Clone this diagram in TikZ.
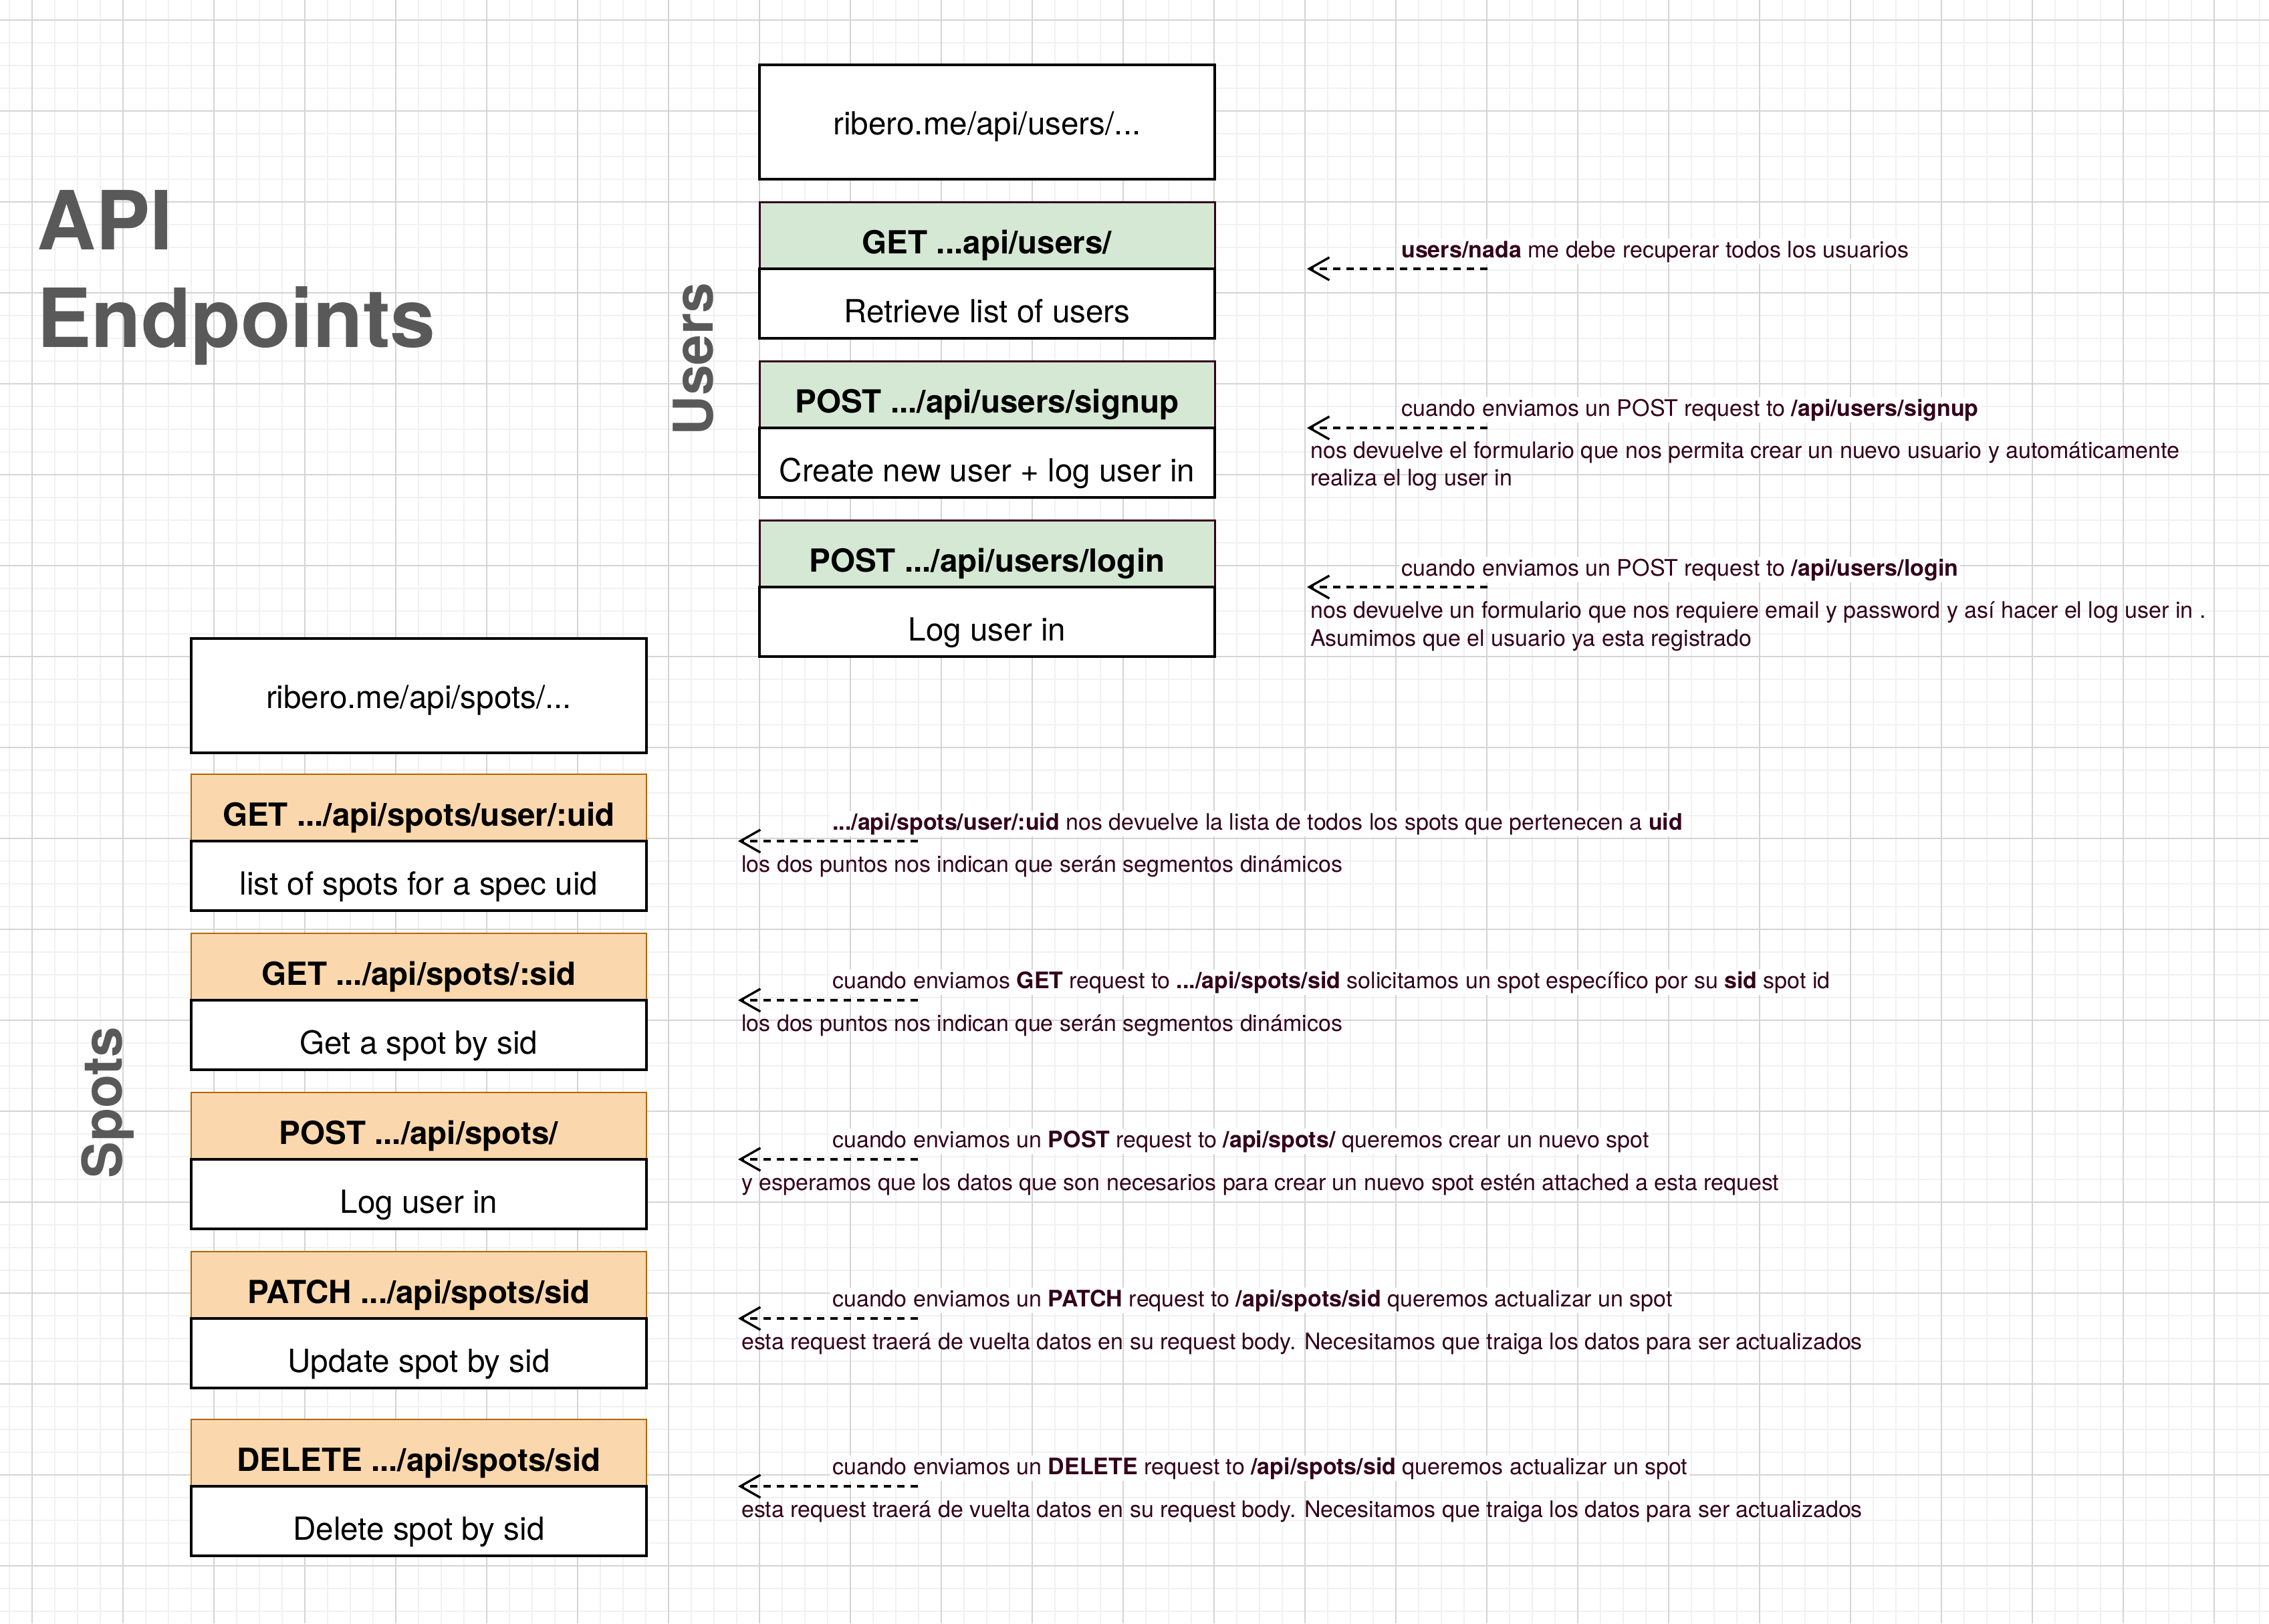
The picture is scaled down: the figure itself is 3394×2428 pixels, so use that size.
\documentclass[tikz,border=0pt]{standalone}
\usepackage{fontspec}
\setmainfont{TeX Gyre Heros}
\usetikzlibrary{arrows.meta}
\definecolor{gridminor}{RGB}{241,241,241}
\definecolor{gridmajor}{RGB}{212,212,212}
\definecolor{titlegray}{RGB}{89,89,89}
\definecolor{notecol}{RGB}{51,0,26}
\definecolor{greenfill}{RGB}{213,232,212}
\definecolor{greenline}{RGB}{51,0,26}
\definecolor{orangefill}{RGB}{250,215,172}
\definecolor{orangeline}{RGB}{180,101,4}
\begin{document}
\begin{tikzpicture}[x=1pt,y=-1pt,
  boxfont/.style={font=\fontsize{47.6}{57}\selectfont},
  urlbox/.style={boxfont, draw=black, line width=3.4pt, fill=white, minimum width=681pt, minimum height=171pt, inner sep=0pt, outer sep=0pt, anchor=north, text height=47pt, text depth=10pt},
  hdr/.style={font=\fontsize{47.6}{57}\selectfont\bfseries, line width=3pt, minimum width=681pt, minimum height=100pt, inner sep=0pt, outer sep=0pt, anchor=north, text height=64pt, text depth=10pt},
  greenhdr/.style={hdr, fill=greenfill, draw=greenline},
  orangehdr/.style={hdr, fill=orangefill, draw=orangeline, line width=2.6pt},
  bodybox/.style={boxfont, draw=black, line width=3.4pt, fill=white, minimum width=681pt, minimum height=104pt, inner sep=0pt, outer sep=0pt, anchor=north, text height=66pt, text depth=10pt},
  titletext/.style={font=\fontsize{122}{146}\selectfont\bfseries, text=titlegray, inner sep=0pt, anchor=base west},
  sectiontext/.style={font=\fontsize{82}{98}\selectfont\bfseries, text=titlegray, inner sep=0pt, rotate=90, anchor=base},
  notefont/.style={font=\fontsize{34}{41}\selectfont, text=notecol},
  notefirst/.style={notefont, fill=white, inner xsep=3pt, inner ysep=3pt, anchor=base west},
  notenext/.style={notefont, inner sep=0pt, anchor=base west},
  notearrow/.style={draw=black, line width=3.4pt, dash pattern=on 11pt off 9pt, -{Straight Barb[length=30pt,width=34pt,line width=3.4pt]}}
]
\useasboundingbox (0,0) rectangle (3394,2428);
\fill[white] (0,0) rectangle (3394,2428);
% grid
\foreach \gx in {14,48,...,3394} \draw[gridminor, line width=1.5pt] (\gx,0) -- (\gx,2428);
\foreach \gy in {30,64,...,2428} \draw[gridminor, line width=1.5pt] (0,\gy) -- (3394,\gy);
\foreach \gx in {48,184,...,3394} \draw[gridmajor, line width=1.5pt] (\gx,0) -- (\gx,2428);
\foreach \gy in {30,166,...,2428} \draw[gridmajor, line width=1.5pt] (0,\gy) -- (3394,\gy);

% titles
\node[titletext] (t1) at (55,373) {API};
\node[titletext] (t2) at (55,519) {Endpoints};
\node[sectiontext] (usersl) at (1066,537) {Users};
\node[sectiontext] (spotsl) at (182,1649) {Spots};

% users column
\node[urlbox] (uurl) at (1476.5,97) {ribero.me/api/users/...};
\node[greenhdr] (u1h) at (1476.5,302) {GET ...api/users/};
\node[bodybox] (u1b) at (u1h.south) {Retrieve list of users};
\node[greenhdr] (u2h) at (1476.5,540) {POST .../api/users/signup};
\node[bodybox] (u2b) at (u2h.south) {Create new user + log user in};
\node[greenhdr] (u3h) at (1476.5,778) {POST .../api/users/login};
\node[bodybox] (u3b) at (u3h.south) {Log user in};

% spots column
\node[urlbox] (surl) at (626.5,955) {ribero.me/api/spots/...};
\node[orangehdr] (s1h) at (626.5,1158) {GET .../api/spots/user/:uid};
\node[bodybox] (s1b) at (s1h.south) {list of spots for a spec uid};
\node[orangehdr] (s2h) at (626.5,1396) {GET .../api/spots/:sid};
\node[bodybox] (s2b) at (s2h.south) {Get a spot by sid};
\node[orangehdr] (s3h) at (626.5,1634) {POST .../api/spots/};
\node[bodybox] (s3b) at (s3h.south) {Log user in};
\node[orangehdr] (s4h) at (626.5,1872) {PATCH .../api/spots/sid};
\node[bodybox] (s4b) at (s4h.south) {Update spot by sid};
\node[orangehdr] (s5h) at (626.5,2123) {DELETE .../api/spots/sid};
\node[bodybox] (s5b) at (s5h.south) {Delete spot by sid};

% users notes
\coordinate (ua1s) at (2225,402); \coordinate (ua1t) at (1955,402);
\draw[notearrow] (ua1s) -- (ua1t);
\node[notefirst] (un1a) at (2093,385) {\textbf{users/nada} me debe recuperar todos los usuarios};

\coordinate (ua2s) at (2225,640); \coordinate (ua2t) at (1955,640);
\draw[notearrow] (ua2s) -- (ua2t);
\node[notefirst] (un2a) at (2093,622) {cuando enviamos un POST request to \textbf{/api/users/signup}};
\node[notenext] (un2b) at (1960,685) {nos devuelve el formulario que nos permita crear un nuevo usuario y automáticamente};
\node[notenext] (un2c) at (1960,726) {realiza el log user in};

\coordinate (ua3s) at (2225,878); \coordinate (ua3t) at (1955,878);
\draw[notearrow] (ua3s) -- (ua3t);
\node[notefirst] (un3a) at (2093,861) {cuando enviamos un POST request to \textbf{/api/users/login}};
\node[notenext] (un3b) at (1960,924) {nos devuelve un formulario que nos requiere email y password y así hacer el log user in .};
\node[notenext] (un3c) at (1960,966) {Asumimos que el usuario ya esta registrado};

% spots notes
\coordinate (sa1s) at (1373,1258); \coordinate (sa1t) at (1104,1258);
\draw[notearrow] (sa1s) -- (sa1t);
\node[notefirst] (sn1a) at (1242,1241) {\textbf{.../api/spots/user/:uid} nos devuelve la lista de todos los spots que pertenecen a \textbf{uid}};
\node[notenext] (sn1b) at (1109,1304) {los dos puntos nos indican que serán segmentos dinámicos};

\coordinate (sa2s) at (1373,1496); \coordinate (sa2t) at (1104,1496);
\draw[notearrow] (sa2s) -- (sa2t);
\node[notefirst] (sn2a) at (1242,1478) {cuando enviamos \textbf{GET} request to \textbf{.../api/spots/sid} solicitamos un spot específico por su \textbf{sid} spot id};
\node[notenext] (sn2b) at (1109,1542) {los dos puntos nos indican que serán segmentos dinámicos};

\coordinate (sa3s) at (1373,1734); \coordinate (sa3t) at (1104,1734);
\draw[notearrow] (sa3s) -- (sa3t);
\node[notefirst] (sn3a) at (1242,1716) {cuando enviamos un \textbf{POST} request to \textbf{/api/spots/} queremos crear un nuevo spot};
\node[notenext] (sn3b) at (1109,1780) {y esperamos que los datos que son necesarios para crear un nuevo spot estén attached a esta request};

\coordinate (sa4s) at (1373,1972); \coordinate (sa4t) at (1104,1972);
\draw[notearrow] (sa4s) -- (sa4t);
\node[notefirst] (sn4a) at (1242,1954) {cuando enviamos un \textbf{PATCH} request to \textbf{/api/spots/sid} queremos actualizar un spot};
\node[notenext] (sn4b) at (1109,2018) {esta request traerá de vuelta datos en su request body. Necesitamos que traiga los datos para ser actualizados};

\coordinate (sa5s) at (1373,2223); \coordinate (sa5t) at (1104,2223);
\draw[notearrow] (sa5s) -- (sa5t);
\node[notefirst] (sn5a) at (1242,2205) {cuando enviamos un \textbf{DELETE} request to \textbf{/api/spots/sid} queremos actualizar un spot};
\node[notenext] (sn5b) at (1109,2269) {esta request traerá de vuelta datos en su request body. Necesitamos que traiga los datos para ser actualizados};
\end{tikzpicture}
\end{document}
